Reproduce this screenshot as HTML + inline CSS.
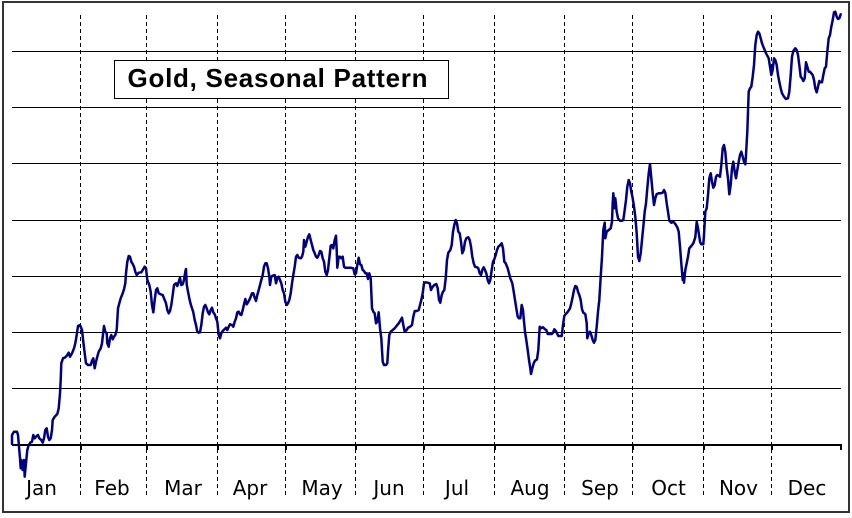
<!DOCTYPE html>
<html>
<head>
<meta charset="utf-8">
<style>
  html, body { margin: 0; padding: 0; background: #ffffff; }
  body { width: 852px; height: 518px; position: relative; overflow: hidden; }
  .frame { position: absolute; left: 2px; top: 1px; width: 848px; height: 512px; border: 2px solid #333333; box-sizing: border-box; }
  svg { position: absolute; left: 0; top: 0; }
</style>
</head>
<body>
<div class="frame"></div>
<svg width="852" height="518" viewBox="0 0 852 518" xmlns="http://www.w3.org/2000/svg">
  <!-- horizontal gridlines -->
  <g stroke="#000" stroke-width="1" shape-rendering="crispEdges">
    <line x1="12" y1="51.5" x2="841" y2="51.5"/>
    <line x1="12" y1="107.5" x2="841" y2="107.5"/>
    <line x1="12" y1="163.5" x2="841" y2="163.5"/>
    <line x1="12" y1="220.5" x2="841" y2="220.5"/>
    <line x1="12" y1="276.5" x2="841" y2="276.5"/>
    <line x1="12" y1="332.5" x2="841" y2="332.5"/>
    <line x1="12" y1="388.5" x2="841" y2="388.5"/>
  </g>
  <!-- vertical dashed month dividers -->
  <g stroke="#000" stroke-width="1" stroke-dasharray="4,3" shape-rendering="crispEdges">
    <line x1="80.5" y1="15" x2="80.5" y2="498"/>
    <line x1="146.5" y1="15" x2="146.5" y2="498"/>
    <line x1="217.5" y1="15" x2="217.5" y2="498"/>
    <line x1="285.5" y1="15" x2="285.5" y2="498"/>
    <line x1="355.5" y1="15" x2="355.5" y2="498"/>
    <line x1="423.5" y1="15" x2="423.5" y2="498"/>
    <line x1="494.5" y1="15" x2="494.5" y2="498"/>
    <line x1="564.5" y1="15" x2="564.5" y2="498"/>
    <line x1="632.5" y1="15" x2="632.5" y2="498"/>
    <line x1="703.5" y1="15" x2="703.5" y2="498"/>
    <line x1="771.5" y1="15" x2="771.5" y2="498"/>
  </g>
  <!-- x axis -->
  <g stroke="#000" shape-rendering="crispEdges">
    <line x1="12" y1="445" x2="842" y2="445" stroke-width="2"/>
    <g stroke-width="2">
      <line x1="81" y1="444" x2="81" y2="450"/>
      <line x1="147" y1="444" x2="147" y2="450"/>
      <line x1="218" y1="444" x2="218" y2="450"/>
      <line x1="286" y1="444" x2="286" y2="450"/>
      <line x1="356" y1="444" x2="356" y2="450"/>
      <line x1="424" y1="444" x2="424" y2="450"/>
      <line x1="495" y1="444" x2="495" y2="450"/>
      <line x1="565" y1="444" x2="565" y2="450"/>
      <line x1="633" y1="444" x2="633" y2="450"/>
      <line x1="704" y1="444" x2="704" y2="450"/>
      <line x1="772" y1="444" x2="772" y2="450"/>
      <line x1="841" y1="444" x2="841" y2="450"/>
    </g>
  </g>
  <!-- month labels -->
  <g font-family="'DejaVu Sans', 'Liberation Sans', sans-serif" font-size="20" fill="#000" text-anchor="middle">
    <text x="41.5" y="495">Jan</text>
    <text x="112" y="495">Feb</text>
    <text x="183" y="495">Mar</text>
    <text x="250" y="495">Apr</text>
    <text x="322" y="495">May</text>
    <text x="389" y="495">Jun</text>
    <text x="457" y="495">Jul</text>
    <text x="530" y="495">Aug</text>
    <text x="600" y="495">Sep</text>
    <text x="668.5" y="495">Oct</text>
    <text x="738.5" y="495">Nov</text>
    <text x="807" y="495">Dec</text>
  </g>
  <!-- data series -->
  <polyline fill="none" stroke="#000080" stroke-width="2.5" stroke-linejoin="round" stroke-linecap="round" points="
12,444 12,435 14,431.7 17,431.7 18,435 19,446.7 20,458.3 20.7,468.3 21.3,460 22.7,470 24,460 24.7,476.7 25.3,470 26.3,460 27.3,450 28.7,445 30.7,442.3 32,441.7 33.3,435 34.7,438.3 36,436.7 38,435 39.3,438.3 41.3,440 42.7,442.7 44,438.3 45.3,430 46.7,428.3 48,436.7 49.3,440 50.7,438.3 52,430 52.7,420 54.7,416.7 57.3,414 58.7,408.3 60,393.3 60.7,380 61.3,363.3 63,358.3 65.3,357.3 67.3,355 68.7,352.7 70,356.7 72,353.3 74,348.3 75.3,343.3 76.7,335 78,326 80,325 82,330 83.3,341.7 84.7,353.3 86,363.3 88,365 90.7,365 92,360.7 93.3,358.3 94.7,368.3 96,361.7 97.3,356.7 98.7,351.7 100.7,348.3 102,343.3 103.3,331.7 104,326 105.3,331.7 106.7,333.3 107.3,343.3 108.7,346.7 110,338.3 111.3,335 112.7,339.3 114,336.7 115.3,335 116.7,330 117.3,320 118,308.3 119.3,303.3 120.7,298.3 122.7,293.3 124,289.3 125.3,283.3 126,273.3 127.3,261.7 128.7,256 130,256.7 131.3,261.7 132.7,264 134,266.7 135.3,271.7 136.7,275 138.7,272.7 141.3,272.3
142.7,270 144.7,266.7 146,268.3 147.3,280 149.3,285 150.7,291.7 152,305 153.3,312.3 154.7,300 156,290 157.3,288.3 158.7,293.3 160.7,294.3 162.7,295 164.7,300 166,303.3 167.3,310 168.7,313.3 170,311 171.3,305 172.7,295 174,285 176,283.3 177.3,286 178.7,281.7 180,277.7 181.3,285 182.7,284.3 184,280 185.3,271.7 186,269 186.7,284.3 188,291.7 189.3,298.3 190.7,304.3 192,308.3 193.3,312.3 194.7,320 196,325 197.3,331.7 198.7,332.7 200,332.3 201.3,325 202.7,313.3 204,306.7 205.3,305 206.7,308.3 208,312.3 209.3,314.3 210.7,310 212,307.7 213.3,312.3 214.7,314.3 216,318.3 217.3,321.7 218.7,335 220,338.3 221.3,333.3 222.7,331 224.7,329 226,327.7 227.3,330 228.7,326.7 230,324.3 232,325 233.3,326.7 234.7,321.7 236,318.3 237.3,312.3 238.7,311.7 240,314.3 241.3,315 242.7,310 244,304.3 245.3,299 246.7,304.3 248,302.3 249.3,300 250.7,296.7 252,293.3 253.3,293.3 254.7,297.7 256,301 257.3,295 258.7,290 260,285 261.3,280 262.7,275 264,266.7 265.3,263.3 266.7,263.3 268,268.3 269.3,276.7 270,285 271.3,276.7 272.7,275.7 274.7,275 276,283.3 277.3,278.3 278.7,276.7 280,280
281.3,283.3 282.7,290 284,293.3 285.3,301.7 286.7,305 288,303.3 289.3,300 290.7,293.3 292,283.3 293.3,275 294.7,266.7 296,256.7 297.3,255 298.7,257.7 300.7,258.3 302,256.7 303.3,251.7 304,240 305.3,246.7 306.7,241.7 308,236.7 309.3,234.3 310.7,240 312,245 313.3,250 314.7,253.3 316,256.7 317.3,257.7 318.7,255 320,251 321.3,251.7 322.7,258.3 324,261.7 325.3,271.7 326.7,275 328,270 329.3,258.3 330.7,245.7 332,245 333.3,248.3 334.7,240 336,235.7 336.7,250 337.3,267.7 338.7,256.7 340,256.7 341.3,258.3 342.7,256.7 344,266.7 345.3,267.7 348,267.7 350.7,267.7 353.3,268.3 354.7,274.3 356,273.3 357.3,265 358.7,257.7 360,264.3 361.3,265 362.7,270 364,271 365.3,273.3 366.7,273.3 368,279 369.3,273.3 370.7,278.3 372,308.3 373.3,311.7 374.7,313.3 376,323.3 377.3,321.7 378.7,312.3 380,328.3 381.3,338.3 382.7,361.7 384,365 386,365 387.3,363.3 388,351.7 389.3,335 390.7,331.7 392.7,330 394.7,328.3 396.7,325.7 398.7,323.3 400.7,320 402,317.7 403.3,325 404.7,331.7 406.7,330 408,327.7 410,326.7 412,325 413.3,316.7 414.7,311 416.7,311 418.7,310 420,305 421.3,300 422.7,293.3 424,283.3 425.3,282.3
427.7,282.7 429.7,283.3 431,290 432.3,287.3 434.3,285 436.3,284 437.7,288.3 439,300 440.3,302.7 441.7,295 443,291.7 444.3,290 445.7,278.3 447,260 448.3,252.7 450.3,250 451.7,245 453,231.7 454.3,225 455.7,220 457,223.3 458.3,231.7 459.7,233.3 461,241.7 462.3,253.3 463.7,250 465,241.7 466.3,238.3 468.3,237.3 469.7,240 471,246.7 472.3,256.7 473.7,263.3 475,266.7 477,267.3 478.3,268.3 479.7,273.3 481,275 482.3,270 483.7,267.3 485,270 486.3,273.3 487.7,280 489,283.3 490.3,280 491.7,270 493,261.7 494.3,259.3 495.7,255 497,250 498.3,246.7 500.3,245 501.7,243.3 503,248.3 504.3,261.7 505.7,263.3 507.7,268.3 509,273.3 510.3,278.3 512.3,283.3 513.7,291.7 515,300 516.3,308.3 517.7,316.7 519,318.3 520.3,318.3 521.7,305 523,310 523.7,318.3 525,331.7 526.3,340 527.7,350 529,360 530.3,368.3 531,374 532.3,368.3 533.7,363.3 535,360.7 537,359.3 538.3,350 539.7,326.7 541,328.3 543,327.3 545,329.3 546.3,330 547.7,334 549.7,334 551.7,334 553,332.7 554.3,329.3 555.7,330.7 557,333.3 558.3,336 560.3,336 561.7,336 563,325 564.3,316 565.7,314 567,312.7 569,310
570,308.3 571.3,303.3 572.7,296.7 574,290 575.3,286 576.7,286.7 578,291.7 579.3,295 580.7,300 582,309.3 583.3,312.7 585.3,314 586.7,323.3 587.3,338.3 588.7,333.3 590,331.7 591.3,335 592.7,340 594,342.7 595.3,340 596.7,326.7 598,311.7 599.3,300 600.7,276.7 602,256.7 603.3,230 604.7,222.7 605.3,238.3 606.7,231.7 608.7,230 610.7,228.3 612,221.7 612.7,203.3 613.3,193.3 614.7,208.3 615.3,198.3 616.7,211.7 618,218.3 620,220.7 622,220.7 623.3,220 624.7,210 626,200 627.3,186.7 628.7,180 630,183.3 631.3,191.7 632.7,198.3 634,206.7 635.3,216.7 636.7,233.3 638,256.7 639.3,261 640.7,253.3 642,240 643.3,226.7 644.7,211.7 646,203.3 647.3,188.3 648.7,173.3 650,164 651.3,178.3 652.7,193.3 654,205 655.3,198.3 656.7,194 658.7,193.3 660.7,193.3 662.7,192.7 664,190 665.3,192.7 666.7,203.3 668,211.7 669.3,220.7 671.3,222.7 673.3,221.7 675.3,224 677.3,227.3 678.7,231.7 680,246.7 681.3,263.3 682.7,280 683.3,273.3 684,282.7 685.3,270 686.7,263.3 688,256.7 689.3,248.3 691.3,246 693.3,243.3 695.3,237.3 696.7,221.7 698,228.3 699.3,236.7
700,241.7 701.3,244.3 703.3,244.3 704,235 705.3,211.7 706.7,208.3 708,195 709.3,178.3 710.7,173.3 712,181.7 713.3,187.7 714.7,185 716,176.7 717.3,175 718.7,175.7 720,176.7 721.3,165 722.7,148.3 724,145 725.3,151.7 726.7,168.3 728,178.3 729.3,194.3 730.7,185 732,168.3 733.3,161.7 734.7,171.7 736,178.3 737.3,170 738.7,161.7 740,155 741.3,151.7 742.7,156.7 744,161.7 745.3,164.3 746,155 747.3,131.7 748.7,91.7 750,88.3 751.3,86.7 752.7,76.7 754,65 755.3,45 756.7,35 758,31.7 759.3,33.3 760.7,38.3 762,43.3 763.3,46.7 764.7,50 766,53.3 767.3,55.7 768.7,58.3 770,66.7 771.3,75 772.7,70 774,58.3 775.3,60 776.7,65 778,75 779.3,81.7 780.7,88.3 782,93.3 784,96.7 786,99 788,98.3 789.3,91.7 790.7,75 792,56.7 793.3,51 795.3,48.3 796.7,50 798,55 799.3,65 800.7,76.7 802,78.3 803.3,81 804.7,78.3 806,62.3 807.3,66.7 808.7,71.7 810,71.7 811.3,73.3 812.7,75 814,80 815.3,88.3 816.7,92.3 818,86.7 819.3,81 820.7,82.3 822,82.3 823.3,75 824.7,68.3 826,66.7 827.3,51.7 828.7,38.3 830,35 831.3,26.7 832.7,20 834,12.3 835.3,11.7 836.7,16.7 838,19 839.3,18.3 840.7,14.3"/>
  <!-- title box -->
  <rect x="114.5" y="60.5" width="334" height="38" fill="#ffffff" stroke="#000" stroke-width="1" shape-rendering="crispEdges"/>
  <text x="127.5" y="87" font-family="'Liberation Sans', Arial, sans-serif" font-weight="bold" font-size="26" fill="#000" textLength="300" lengthAdjust="spacing">Gold, Seasonal Pattern</text>
</svg>
</body>
</html>
